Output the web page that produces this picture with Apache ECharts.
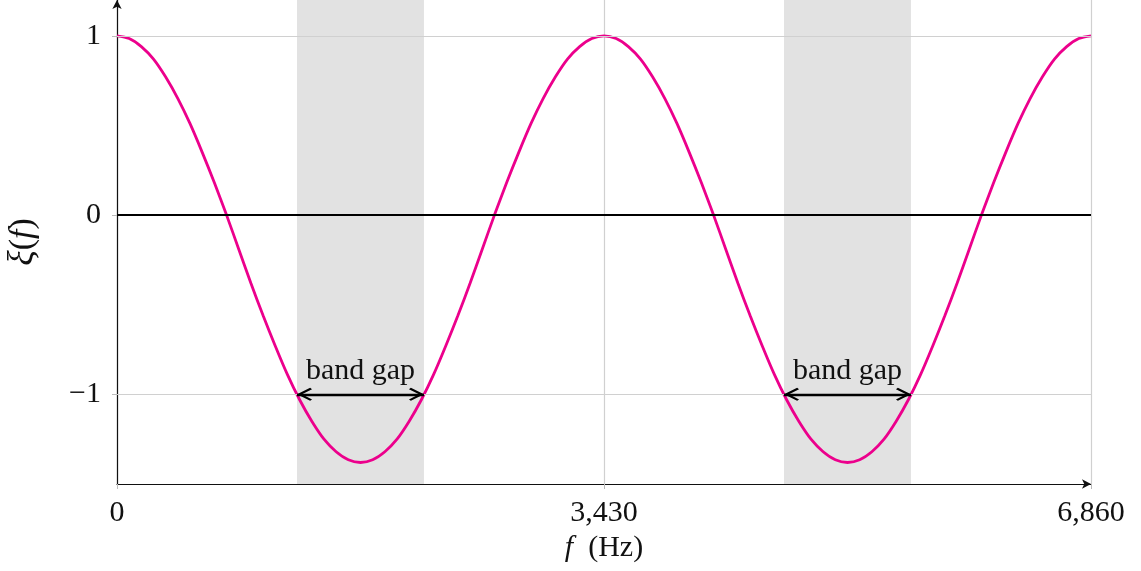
<!DOCTYPE html>
<html>
<head>
<meta charset="utf-8">
<title>Dispersion function</title>
<script src="https://cdn.jsdelivr.net/npm/echarts@6/dist/echarts.min.js"></script>
<style>
  html, body { margin: 0; padding: 0; background: #fff; }
  #chart { width: 1141px; height: 571px; }
</style>
</head>
<body>
<div id="chart"></div>
<script>
// Frequency samples (Hz)
const freqHz = [
  0, 85.75, 171.5, 257.25, 343, 428.75, 514.5, 600.25, 686, 771.75,
  857.5, 943.25, 1029, 1114.75, 1200.5, 1286.25, 1372, 1457.75, 1543.5, 1629.25,
  1715, 1800.75, 1886.5, 1972.25, 2058, 2143.75, 2229.5, 2315.25, 2401, 2486.75,
  2572.5, 2658.25, 2744, 2829.75, 2915.5, 3001.25, 3087, 3172.75, 3258.5, 3344.25,
  3430, 3515.75, 3601.5, 3687.25, 3773, 3858.75, 3944.5, 4030.25, 4116, 4201.75,
  4287.5, 4373.25, 4459, 4544.75, 4630.5, 4716.25, 4802, 4887.75, 4973.5, 5059.25,
  5145, 5230.75, 5316.5, 5402.25, 5488, 5573.75, 5659.5, 5745.25, 5831, 5916.75,
  6002.5, 6088.25, 6174, 6259.75, 6345.5, 6431.25, 6517, 6602.75, 6688.5, 6774.25,
  6860
];
// ξ(f) at each frequency
const xi = [
  1.00, 0.985, 0.94, 0.87, 0.77, 0.65, 0.51, 0.35, 0.18, 0.00,
  -0.19, -0.38, -0.56, -0.73, -0.89, -1.03, -1.15, -1.25, -1.32, -1.365,
  -1.38, -1.365, -1.32, -1.25, -1.15, -1.03, -0.89, -0.73, -0.56, -0.38,
  -0.19, 0.00, 0.18, 0.35, 0.51, 0.65, 0.77, 0.87, 0.94, 0.985,
  1.00, 0.985, 0.94, 0.87, 0.77, 0.65, 0.51, 0.35, 0.18, 0.00,
  -0.19, -0.38, -0.56, -0.73, -0.89, -1.03, -1.15, -1.25, -1.32, -1.365,
  -1.38, -1.365, -1.32, -1.25, -1.15, -1.03, -0.89, -0.73, -0.56, -0.38,
  -0.19, 0.00, 0.18, 0.35, 0.51, 0.65, 0.77, 0.87, 0.94, 0.985,
  1.00
];
// Band gaps: frequency ranges where ξ(f) < -1
const bandGaps = [[1268, 2162], [4698, 5592]];
const bandGapLabel = 'band gap';
const xTicks = [0, 3430, 6860];
const yTicks = [-1, 0, 1];

const FONT = '"Liberation Serif", "Times New Roman", serif';
const FS = 30;
// open arrow head; the empty sub-path balances the bounding box so the tip sits on the end point
const chevron = 'path://M0,0 L9,11 L7,12.6 L0,4.2 L-7,12.6 L-9,11 Z M0,-12.6 L0,-12.6 Z';

const chart = echarts.init(document.getElementById('chart'), null, { renderer: 'canvas' });

chart.setOption({
  animation: false,
  backgroundColor: '#ffffff',
  grid: { left: 117, right: 50, top: 0, bottom: 87, containLabel: false, outerBoundsMode: 'none' },
  xAxis: {
    type: 'value',
    min: 0,
    max: 6860,
    interval: 3430,
    name: '{i|f}  (Hz)',
    nameLocation: 'middle',
    nameGap: 48,
    nameTextStyle: {
      fontFamily: FONT, fontSize: FS, color: '#111',
      rich: { i: { fontFamily: FONT, fontStyle: 'italic', fontSize: FS, color: '#111' } }
    },
    axisLine: {
      show: true, onZero: false,
      symbol: ['none', 'arrow'], symbolSize: [7, 9],
      lineStyle: { color: '#111', width: 1.2 }
    },
    axisTick: { show: true, inside: false, length: 5, lineStyle: { color: '#bbb', width: 1 } },
    axisLabel: {
      margin: 14, fontFamily: FONT, fontSize: FS, color: '#111',
      customValues: xTicks,
      formatter: v => v.toLocaleString('en-US')
    },
    splitLine: { show: true, lineStyle: { color: '#d0d0d0', width: 1.2 } }
  },
  yAxis: {
    type: 'value',
    min: -1.5,
    max: 1.2,
    name: '{g|ξ}{p|(}{i|f}{p|)}',
    nameLocation: 'middle',
    nameGap: 76,
    nameTextStyle: {
      fontFamily: FONT, fontSize: 34, color: '#111',
      rich: {
        g: { fontFamily: FONT, fontStyle: 'italic', fontSize: 36, color: '#111' },
        p: { fontFamily: FONT, fontSize: 34, color: '#111' },
        i: { fontFamily: FONT, fontStyle: 'italic', fontSize: 34, color: '#111' }
      }
    },
    axisLine: {
      show: true, onZero: false,
      symbol: ['none', 'arrow'], symbolSize: [7, 9],
      lineStyle: { color: '#111', width: 1.2 }
    },
    axisTick: { show: true, inside: false, length: 5, customValues: yTicks, lineStyle: { color: '#bbb', width: 1 } },
    axisLabel: {
      margin: 16, fontFamily: FONT, fontSize: FS, color: '#111',
      customValues: yTicks,
      formatter: v => String(v).replace('-', '\u2212')
    },
    splitLine: { show: false }
  },
  series: [
    {
      // shaded band-gap regions and reference lines
      name: 'guides',
      type: 'line',
      data: [],
      z: 1,
      markArea: {
        silent: true,
        itemStyle: { color: '#e2e2e2' },
        data: bandGaps.map(g => [{ xAxis: g[0] }, { xAxis: g[1] }])
      },
      markLine: {
        silent: true,
        symbol: ['none', 'none'],
        label: { show: false },
        data: [
          { yAxis: 1, lineStyle: { color: '#d0d0d0', width: 1.2, type: 'solid' } },
          { yAxis: -1, lineStyle: { color: '#d0d0d0', width: 1.2, type: 'solid' } },
          { yAxis: 0, lineStyle: { color: '#000', width: 2, type: 'solid' } }
        ]
      }
    },
    {
      name: 'ξ(f)',
      type: 'line',
      data: freqHz.map((f, i) => [f, xi[i]]),
      smooth: 0.3,
      showSymbol: false,
      z: 3,
      lineStyle: { color: '#ec008c', width: 2.8 }
    },
    {
      // band gap arrows with labels
      name: 'arrows',
      type: 'line',
      data: [],
      z: 4,
      markLine: {
        silent: true,
        symbol: [chevron, chevron],
        symbolSize: [13, 30],
        lineStyle: { color: '#000', width: 2.4, type: 'solid' },
        label: {
          show: true,
          position: 'middle',
          formatter: bandGapLabel,
          fontFamily: FONT, fontSize: FS, color: '#111',
          distance: 8
        },
        data: bandGaps.map(g => [{ coord: [g[0], -1] }, { coord: [g[1], -1] }])
      }
    }
  ]
});
</script>
</body>
</html>
